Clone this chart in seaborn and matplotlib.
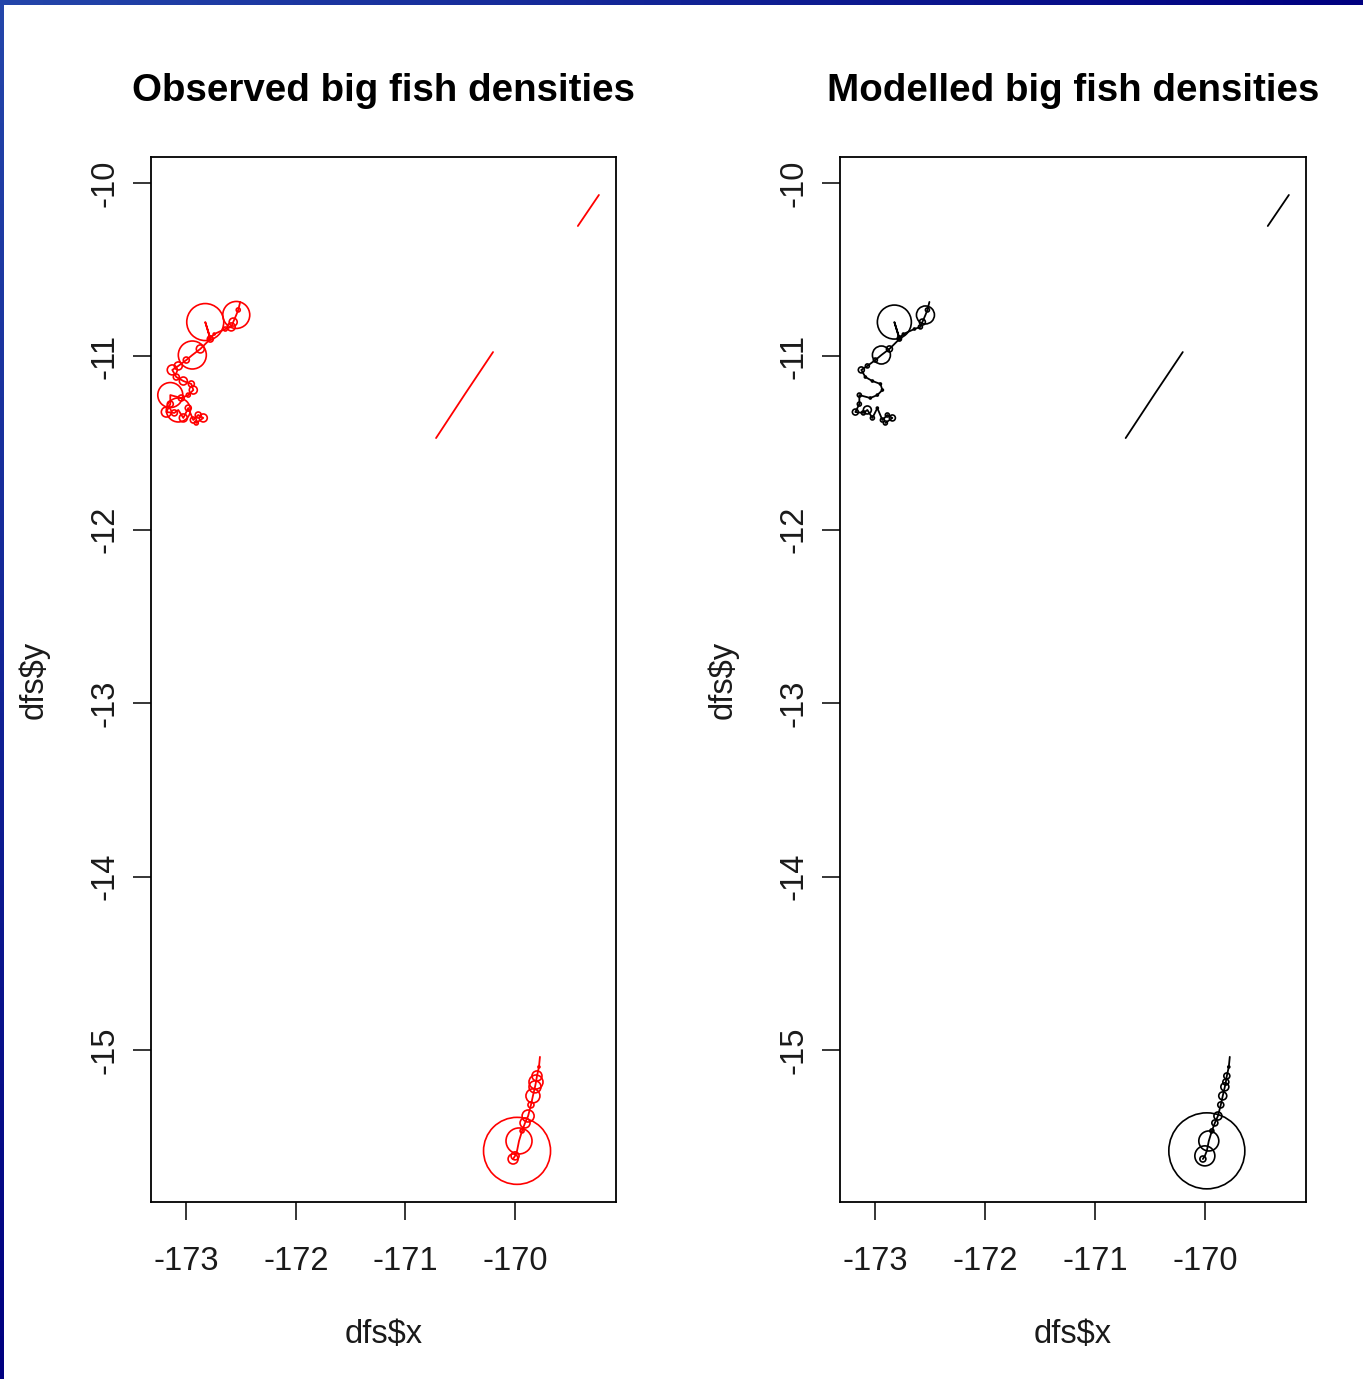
import numpy as np
import pandas as pd
import matplotlib
matplotlib.use("Agg")
import matplotlib.pyplot as plt
from matplotlib.colors import LinearSegmentedColormap
import seaborn as sns

# ---- survey track: positions (decimal degrees) -------------------------
# transect 1: western cluster, transect 2: south-eastern cluster,
# transects 3 and 4: empty runs (no big fish recorded)
lon = [
    -172.508, -172.526, -172.544, -172.572, -172.590, -172.644, -172.745, -172.781,
    -172.827, -172.781, -172.872, -172.945, -173.000, -173.073, -173.128, -173.091,
    -173.027, -172.954, -172.936, -172.982, -173.046, -173.146, -173.146, -173.182,
    -173.109, -173.073, -173.027, -172.982, -172.936, -172.891, -172.845, -172.909,
    -169.773, -169.782, -169.800, -169.809, -169.818, -169.837, -169.855, -169.881,
    -169.909, -169.936, -169.964, -169.982, -170.000, -170.018,
    -170.721, -170.457, -170.201,
    -169.427, -169.235,
]
lat = [
    -10.686, -10.732, -10.761, -10.802, -10.830, -10.842, -10.871, -10.894,
    -10.802, -10.900, -10.957, -10.992, -11.021, -11.055, -11.078, -11.119,
    -11.142, -11.159, -11.194, -11.223, -11.240, -11.223, -11.275, -11.321,
    -11.326, -11.309, -11.355, -11.298, -11.367, -11.338, -11.355, -11.384,
    -15.040, -15.098, -15.150, -15.185, -15.213, -15.265, -15.317, -15.381,
    -15.421, -15.467, -15.525, -15.582, -15.611, -15.629,
    -11.471, -11.217, -10.975,
    -10.248, -10.069,
]
transect = [1] * 32 + [2] * 14 + [3] * 3 + [4] * 2

# ---- big fish densities at each track point ----------------------------
obs_density = [
    0, 4, 27, 8, 8, 4, 2, 4, 37, 6, 8, 28, 6, 8, 10, 6,
    8, 6, 8, 4, 6, 25, 6, 10, 6, 24, 8, 6, 6, 6, 8, 4,
    0, 2, 10, 14, 12, 14, 6, 12, 10, 4, 26, 67, 8, 10,
    0, 0, 0,
    0, 0,
]
mod_density = [
    0, 4, 18, 6, 4, 2, 2, 4, 34, 4, 6, 18, 4, 4, 6, 2,
    2, 2, 2, 2, 2, 4, 4, 6, 4, 8, 4, 2, 4, 4, 6, 4,
    0, 2, 6, 6, 8, 8, 6, 8, 6, 4, 20, 76, 20, 6,
    0, 0, 0,
    0, 0,
]

x_ticks = [-173, -172, -171, -170]
y_ticks = [-10, -11, -12, -13, -14, -15]
titles = ["Observed big fish densities", "Modelled big fish densities"]
colors = ["#ff0000", "#000000"]

dfs = pd.DataFrame({
    "x": lon, "y": lat, "transect": transect,
    "obs": obs_density, "mod": mod_density,
})
# circle radius proportional to density -> marker area proportional to density^2
dfs["obs_sq"] = dfs["obs"] ** 2
dfs["mod_sq"] = dfs["mod"] ** 2
DMAX = 80.0
SMAX = (0.72 * DMAX) ** 2

sns.set_style("white")
plt.rcParams["font.family"] = ["Liberation Sans", "DejaVu Sans"]
plt.rcParams["axes.unicode_minus"] = False
plt.rcParams["axes.edgecolor"] = "black"
plt.rcParams["axes.linewidth"] = 1.3

W, H = 1363, 1379
fig = plt.figure(figsize=(W / 100, H / 100), dpi=100)
fig.patch.set_facecolor("white")

boxes = [
    [151 / W, 177 / H, 465 / W, 1045 / H],
    [840 / W, 177 / H, 466 / W, 1045 / H],
]

for box, title, col, var in zip(boxes, titles, colors, ["obs_sq", "mod_sq"]):
    ax = fig.add_axes(box)
    sns.lineplot(data=dfs, x="x", y="y", units="transect", estimator=None,
                 sort=False, color=col, lw=1.3, ax=ax, legend=False)
    sns.scatterplot(data=dfs, x="x", y="y", size=var, sizes=(0, SMAX),
                    size_norm=(0, DMAX ** 2), marker="o", facecolor="none",
                    edgecolor=col, linewidth=1.2, legend=False, ax=ax)
    ax.set_xlim(-173.322, -169.079)
    ax.set_ylim(-15.877, -9.850)
    ax.set_xticks(x_ticks)
    ax.set_xticklabels([str(v) for v in x_ticks])
    ax.set_yticks(y_ticks)
    ax.set_yticklabels([str(v) for v in y_ticks], rotation=90, va="center")
    ax.tick_params(axis="both", which="major", direction="out", length=13.3,
                   width=1.1, color="black", labelsize=23.5, labelcolor="#1a1a1a",
                   bottom=True, left=True, top=False, right=False)
    ax.tick_params(axis="x", pad=18.5)
    ax.tick_params(axis="y", pad=8.6)
    for s in ax.spines.values():
        s.set_visible(True)
        s.set_color("black")
        s.set_linewidth(1.3)
    ax.grid(False)
    ax.set_xlabel(r"dfs\$x", fontsize=23.5, color="#1a1a1a", labelpad=30)
    ax.set_ylabel(r"dfs\$y", fontsize=23.5, color="#1a1a1a", labelpad=29)
    ax.set_title(title, fontsize=27.7, fontweight="bold", pad=40, color="black")

# slide frame: blue bands along the top and left edges
band_cmap = LinearSegmentedColormap.from_list("band", ["#2446aa", "#000080"])
top = fig.add_axes([0, 1 - 5 / H, 1, 5 / H])
top.imshow(np.linspace(0, 1, 256)[None, :], cmap=band_cmap, aspect="auto")
top.set_axis_off()
left = fig.add_axes([0, 0, 4 / W, 1 - 5 / H])
left.imshow(np.linspace(0, 1, 256)[:, None], cmap=band_cmap, aspect="auto")
left.set_axis_off()

fig.savefig("out.png", dpi=100, facecolor="white")
